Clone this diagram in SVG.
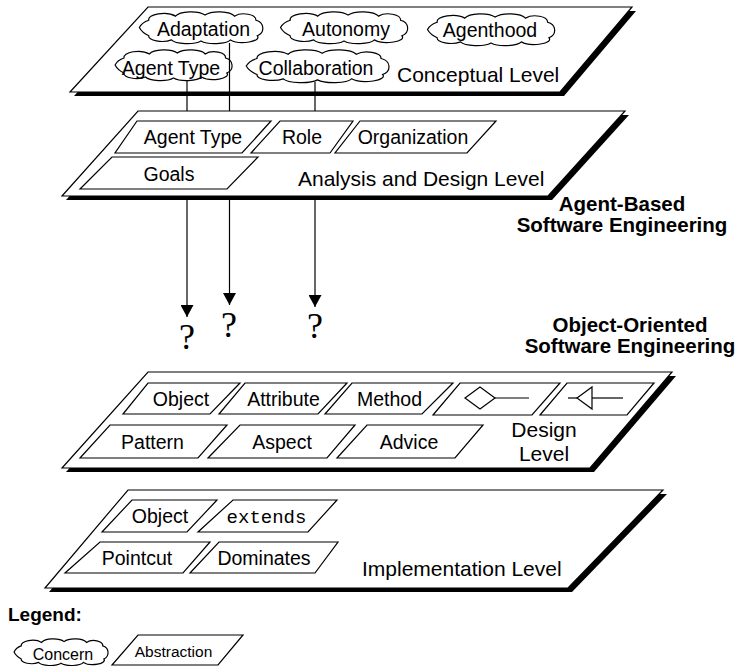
<svg xmlns="http://www.w3.org/2000/svg" width="741" height="669" viewBox="0 0 741 669">
<defs>
<style>
.plane{fill:#fff;stroke:#000;stroke-width:1.2}
.shadow{fill:#000}
.box{fill:#fff;stroke:#000;stroke-width:1.2}
.cloud{fill:#fff;stroke:#000;stroke-width:1.2}
text{font-family:"Liberation Sans",Arial,sans-serif;fill:#000}
.lbl{font-size:19.5px;text-anchor:middle}
.lvl{font-size:21px}
.mid{text-anchor:middle}
.head{font-size:20.5px;font-weight:bold;text-anchor:middle}
.q{font-family:"Liberation Serif","Times New Roman",serif;font-size:36px;text-anchor:middle}
.mono{font-family:"Liberation Mono","Courier New",monospace;font-size:19px;text-anchor:middle}
.conn{stroke:#000;stroke-width:1.2;fill:none}
.sym{fill:#fff;stroke:#000;stroke-width:1.2}
</style>
<!-- unit cloud outline, 100 x 30 -->
<path id="cloud" class="cloud" vector-effect="non-scaling-stroke" d="M4,15 Q6,10 11,8 A11,6 0 0 1 31,4 A12,6 0 0 1 53,3 A12,6 0 0 1 75,4 A9,6 0 0 1 91,8 A7,8 0 0 1 92,23 A11,5 0 0 1 72,27 A12,5 0 0 1 50,28 A12,5 0 0 1 28,27 A10,5 0 0 1 11,23 Q6,20 4,15 Z"/>
<marker id="arrow" markerWidth="13" markerHeight="13" refX="12" refY="6.5" orient="auto" markerUnits="userSpaceOnUse">
<path d="M0,0 L12,6.5 L0,13 Z" fill="#000"/>
</marker>
</defs>

<!-- Conceptual level -->
<g id="conceptual-level">
<polygon class="shadow" points="152,11 636,11 564,96 74,96"/>
<polygon class="plane" points="148,7 632,7 560,92 70,92"/>
<text class="lvl" x="397" y="82">Conceptual Level</text>
</g>
<g id="adaptation">
<use href="#cloud" transform="translate(134,12) scale(1.34,1.033)"/>
<text class="lbl" x="203.5" y="36">Adaptation</text>
</g>
<g id="autonomy">
<use href="#cloud" transform="translate(275,12) scale(1.38,1.033)"/>
<text class="lbl" x="346" y="36">Autonomy</text>
</g>
<g id="agenthood">
<use href="#cloud" transform="translate(422,14) scale(1.38,1.033)"/>
<text class="lbl" x="490" y="37">Agenthood</text>
</g>
<g id="agent-type-concern">
<use href="#cloud" transform="translate(110,50) scale(1.27,1.0)"/>
<text class="lbl" x="171" y="75">Agent Type</text>
</g>
<g id="collaboration">
<use href="#cloud" transform="translate(240,50) scale(1.55,1.067)"/>
<text class="lbl" x="316" y="75">Collaboration</text>
</g>

<!-- mappings from concerns down to the object-oriented side -->
<g id="connectors">
<line class="conn" x1="187" y1="80" x2="187" y2="317" marker-end="url(#arrow)"/>
<line class="conn" x1="229.5" y1="43" x2="229.5" y2="305" marker-end="url(#arrow)"/>
<line class="conn" x1="315" y1="82" x2="315" y2="307" marker-end="url(#arrow)"/>
</g>

<!-- Analysis and design level -->
<g id="analysis-level">
<polygon class="shadow" points="142,115 629,115 552,200 66,200"/>
<polygon class="plane" points="138,111 625,111 548,196 62,196"/>
<text class="lvl" x="298" y="186">Analysis and Design Level</text>
</g>
<g id="agent-type">
<polygon class="box" points="137,121 271,121 242,153 115,153"/>
<text class="lbl" x="193" y="144">Agent Type</text>
</g>
<g id="role">
<polygon class="box" points="280,121 353,121 330,153 251,153"/>
<text class="lbl" x="302" y="144">Role</text>
</g>
<g id="organization">
<polygon class="box" points="360,121 496,121 467,153 335,153"/>
<text class="lbl" x="413" y="144">Organization</text>
</g>
<g id="goals">
<polygon class="box" points="112,157 258,157 227,189 80,189"/>
<text class="lbl" x="169" y="181">Goals</text>
</g>

<g id="question-marks">
<text class="q" x="187" y="349">?</text>
<text class="q" x="229" y="337">?</text>
<text class="q" x="315" y="338">?</text>
</g>

<g id="headings">
<text class="head"><tspan x="622" y="211">Agent-Based</tspan><tspan x="622" y="232">Software Engineering</tspan></text>
<text class="head"><tspan x="630" y="332">Object-Oriented</tspan><tspan x="630" y="353">Software Engineering</tspan></text>
</g>

<!-- Design level -->
<g id="design-level">
<polygon class="shadow" points="152,376 676,376 594,472 66,472"/>
<polygon class="plane" points="148,372 672,372 590,468 62,468"/>
<text class="lvl mid"><tspan x="544" y="437">Design</tspan><tspan x="544" y="461">Level</tspan></text>
</g>
<g id="object">
<polygon class="box" points="148,383 240,383 210,414 123,414"/>
<text class="lbl" x="181" y="406">Object</text>
</g>
<g id="attribute">
<polygon class="box" points="245,383 347,383 318,414 219,414"/>
<text class="lbl" x="283.5" y="406">Attribute</text>
</g>
<g id="method">
<polygon class="box" points="352,383 453,383 422,414 325,414"/>
<text class="lbl" x="389.5" y="406">Method</text>
</g>
<g id="aggregation">
<polygon class="box" points="460,383 560,383 532,415 433,415"/>
<polygon class="sym" points="465,398 480,387 495,398 480,409"/>
<line class="conn" x1="495" y1="398" x2="529" y2="398"/>
</g>
<g id="generalization">
<polygon class="box" points="567,383 654,383 627,415 540,415"/>
<line class="conn" x1="568" y1="398" x2="577" y2="398"/>
<polygon class="sym" points="577,398 592,387 592,409"/>
<line class="conn" x1="592" y1="398" x2="623" y2="398"/>
</g>
<g id="pattern">
<polygon class="box" points="110,425 227,425 198,458 80,458"/>
<text class="lbl" x="152.5" y="449">Pattern</text>
</g>
<g id="aspect">
<polygon class="box" points="240,425 355,425 327,458 208,458"/>
<text class="lbl" x="282" y="449">Aspect</text>
</g>
<g id="advice">
<polygon class="box" points="367,425 483,425 455,458 337,458"/>
<text class="lbl" x="409" y="449">Advice</text>
</g>

<!-- Implementation level -->
<g id="implementation-level">
<polygon class="shadow" points="132,494 667,494 572,592 49,592"/>
<polygon class="plane" points="128,490 663,490 568,588 45,588"/>
<text class="lvl" x="362" y="576">Implementation Level</text>
</g>
<g id="impl-object">
<polygon class="box" points="132,500 217,500 187,532 102,532"/>
<text class="lbl" x="160" y="523">Object</text>
</g>
<g id="extends">
<polygon class="box" points="233,500 337,500 308,532 198,532"/>
<text class="mono" x="266.5" y="523">extends</text>
</g>
<g id="pointcut">
<polygon class="box" points="100,542 210,542 183,573 65,573"/>
<text class="lbl" x="137" y="565">Pointcut</text>
</g>
<g id="dominates">
<polygon class="box" points="219,542 338,542 315,573 190,573"/>
<text class="lbl" x="264" y="565">Dominates</text>
</g>

<!-- Legend -->
<g id="legend">
<text x="8" y="621" font-size="19" font-weight="bold">Legend:</text>
</g>
<g id="legend-concern">
<use href="#cloud" transform="translate(10,639) scale(1.02,0.867)"/>
<text x="63" y="660" font-size="16" class="mid">Concern</text>
</g>
<g id="legend-abstraction">
<polygon class="box" points="138,635 243,635 218,665 112,665"/>
<text x="173.5" y="657" font-size="15.5" class="mid">Abstraction</text>
</g>
</svg>
